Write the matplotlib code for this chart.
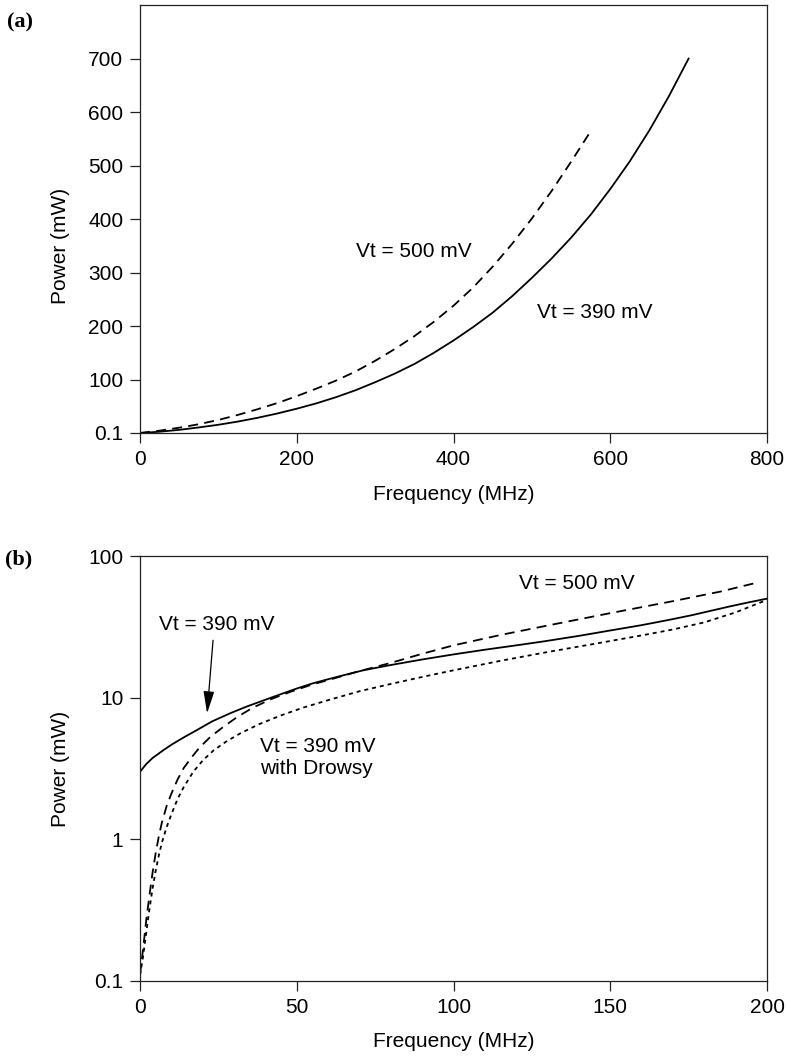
import numpy as np
import matplotlib
matplotlib.use('Agg')
import matplotlib.pyplot as plt

plt.rcParams['font.family'] = ['Liberation Sans', 'DejaVu Sans']
plt.rcParams['font.size'] = 15

# (a) linear scale, power vs frequency
freq_390_a = [0, 25, 50, 75, 100, 125, 150, 175, 200, 225, 250, 275, 300, 325, 350,
              375, 400, 425, 450, 475, 500, 525, 550, 575, 600, 625, 650, 675, 700]
power_390_a = [0.1, 2.5, 6, 10.5, 15.5, 21.5, 28.5, 36.5, 45.5, 55.5, 67, 80, 95, 111, 129,
               150, 173, 198, 225, 256, 290, 326, 365, 408, 456, 508, 566, 630, 700]
freq_500_a = [0, 25, 50, 75, 100, 125, 150, 175, 200, 225, 250, 275, 300, 325, 350,
              375, 400, 425, 450, 475, 500, 525, 550, 575]
power_500_a = [0.1, 4.5, 10, 16.5, 24.5, 34, 44.5, 56, 69, 83, 98, 115, 135, 157, 181,
               208, 238, 272, 311, 354, 401, 452, 507, 564]
xticks_a = [0, 200, 400, 600, 800]
yticks_a = [0.1, 100, 200, 300, 400, 500, 600, 700]
ylabels_a = ['0.1', '100', '200', '300', '400', '500', '600', '700']

# (b) log scale, low frequencies
freq_390_b = [0, 2, 4, 7.4, 10, 14, 18, 23, 28.7, 34, 39.3, 45, 50, 55, 60.6, 66, 71.2, 80,
              90, 100, 110, 120, 129, 140, 150, 160, 169, 176, 182, 188, 194, 200]
power_390_b = [3.0, 3.4, 3.75, 4.25, 4.65, 5.25, 5.88, 6.8, 7.75, 8.65, 9.55, 10.6, 11.6, 12.6,
               13.6, 14.6, 15.6, 17.0, 18.6, 20.2, 21.8, 23.4, 25.0, 27.3, 29.8, 32.5, 35.5,
               38.2, 41, 44, 47, 50]
freq_500_b = [0, 1, 2, 3, 4, 5, 6, 7, 8.5, 10, 12, 14, 16.5, 19, 22.5, 26.5, 31, 36, 42, 48,
              55, 62, 70, 80, 90, 100, 115, 130, 150, 170, 185, 197]
power_500_b = [0.11, 0.17, 0.27, 0.4, 0.58, 0.8, 1.05, 1.32, 1.72, 2.1, 2.65, 3.2, 3.8, 4.45,
               5.3, 6.2, 7.3, 8.5, 9.8, 11.0, 12.4, 13.7, 15.4, 17.6, 20.4, 23.4, 27.7, 32.3,
               39.5, 48, 56, 65]
freq_drowsy_b = [0, 1, 2, 3, 4, 5, 6, 7, 8.5, 10, 12, 14, 17, 20, 23.5, 27.5, 32, 38, 45, 52,
                 60, 70, 80, 90, 100, 115, 130, 145, 160, 170, 180, 190, 200]
power_drowsy_b = [0.11, 0.15, 0.22, 0.32, 0.45, 0.6, 0.77, 0.95, 1.22, 1.5, 1.93, 2.35, 3.0,
                  3.6, 4.25, 4.9, 5.6, 6.5, 7.5, 8.5, 9.6, 11.1, 12.5, 14.0, 15.6, 18.2, 21.0,
                  24.0, 27.5, 30.3, 34, 40, 49]
xticks_b = [0, 50, 100, 150, 200]
yticks_b = [0.1, 1, 10, 100]
ylabels_b = ['0.1', '1', '10', '100']

W, H = 786, 1058
fig = plt.figure(figsize=(W / 100, H / 100), dpi=100)
ax1 = fig.add_axes([140 / W, 1 - 433 / H, 627 / W, 428 / H])
ax2 = fig.add_axes([140 / W, 1 - 981 / H, 627 / W, 425 / H])

lw = 1.3
dash = (0, (5.5, 3.5))
dot = (0, (2.2, 2.2))

# --- panel (a)
ax1.plot(freq_390_a, power_390_a, color='k', lw=lw)
ax1.plot(freq_500_a, power_500_a, color='k', lw=lw, linestyle=dash)
ax1.set_xlim(0, 800)
ax1.set_ylim(0.1, 800)
ax1.set_xticks(xticks_a)
ax1.set_yticks(yticks_a)
ax1.set_yticklabels(ylabels_a)
ax1.text(275, 339, 'Vt = 500 mV', ha='left', va='center')
ax1.text(506, 226, 'Vt = 390 mV', ha='left', va='center')

# --- panel (b)
ax2.plot(freq_390_b, power_390_b, color='k', lw=lw)
ax2.plot(freq_500_b, power_500_b, color='k', lw=lw, linestyle=dash)
ax2.plot(freq_drowsy_b, power_drowsy_b, color='k', lw=lw, linestyle=dot)
ax2.set_yscale('log')
ax2.set_xlim(0, 200)
ax2.set_ylim(0.1, 100)
ax2.set_xticks(xticks_b)
ax2.set_yticks(yticks_b)
ax2.set_yticklabels(ylabels_b)
ax2.yaxis.set_minor_locator(matplotlib.ticker.NullLocator())
ax2.text(121, 64, 'Vt = 500 mV', ha='left', va='center')
ax2.text(6.2, 33, 'Vt = 390 mV', ha='left', va='center')
ax2.text(38.3, 3.76, 'Vt = 390 mV\nwith Drowsy', ha='left', va='center')
ax2.annotate('', xy=(21.4, 7.75), xytext=(23.3, 25.4),
             arrowprops=dict(arrowstyle='-|>,head_length=0.9,head_width=0.22',
                             color='k', lw=0.9, shrinkA=0, shrinkB=0))

for ax, ylab_y in [(ax1, 0.437), (ax2, 0.5)]:
    for s in ax.spines.values():
        s.set_linewidth(0.9)
        s.set_color('#222222')
    ax.tick_params(direction='out', length=7, width=0.9, pad=5, color='#222222')
    ax.set_xlabel('Frequency (MHz)', va='center')
    ax.set_ylabel('Power (mW)', va='center')
    ax.xaxis.set_label_coords(0.5, -0.143)
    ax.yaxis.set_label_coords(-0.126, ylab_y)

fig.text(7 / W, 1 - 22 / H, '(a)', family=['Liberation Serif'], fontweight='bold',
         ha='left', va='center', size=16)
fig.text(5 / W, 1 - 559 / H, '(b)', family=['Liberation Serif'], fontweight='bold',
         ha='left', va='center', size=16)

plt.savefig('out.png', dpi=100)
